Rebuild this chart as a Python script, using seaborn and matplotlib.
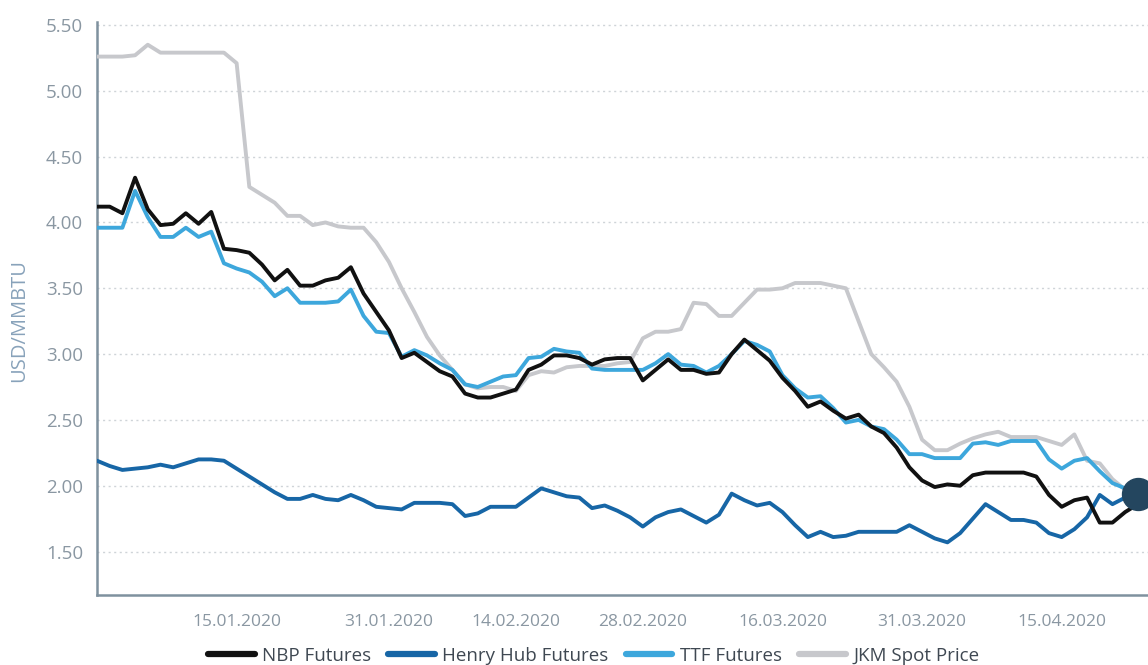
import matplotlib
matplotlib.use("Agg")
import numpy as np
import pandas as pd
import matplotlib.pyplot as plt
import seaborn as sns
from matplotlib.lines import Line2D

# Trading days (business days) starting 31.12.2019
trade_days = pd.bdate_range("2019-12-31", periods=83)

nbp = [4.12, 4.12, 4.07, 4.34, 4.10, 3.98, 3.99, 4.07, 3.99, 4.08,
       3.80, 3.79, 3.77, 3.68, 3.56, 3.64, 3.52, 3.52, 3.56, 3.58,
       3.66, 3.46, 3.32, 3.18, 2.97, 3.01, 2.94, 2.87, 2.83, 2.70,
       2.67, 2.67, 2.70, 2.73, 2.88, 2.92, 2.99, 2.99, 2.97, 2.92,
       2.96, 2.97, 2.97, 2.80, 2.88, 2.96, 2.88, 2.88, 2.85, 2.86,
       3.00, 3.11, 3.03, 2.95, 2.82, 2.72, 2.60, 2.64, 2.57, 2.51,
       2.54, 2.45, 2.40, 2.29, 2.14, 2.04, 1.99, 2.01, 2.00, 2.08,
       2.10, 2.10, 2.10, 2.10, 2.07, 1.93, 1.84, 1.89, 1.91, 1.72,
       1.72, 1.80, 1.86]

henry_hub = [2.19, 2.15, 2.12, 2.13, 2.14, 2.16, 2.14, 2.17, 2.20, 2.20,
             2.19, 2.13, 2.07, 2.01, 1.95, 1.90, 1.90, 1.93, 1.90, 1.89,
             1.93, 1.89, 1.84, 1.83, 1.82, 1.87, 1.87, 1.87, 1.86, 1.77,
             1.79, 1.84, 1.84, 1.84, 1.91, 1.98, 1.95, 1.92, 1.91, 1.83,
             1.85, 1.81, 1.76, 1.69, 1.76, 1.80, 1.82, 1.77, 1.72, 1.78,
             1.94, 1.89, 1.85, 1.87, 1.80, 1.70, 1.61, 1.65, 1.61, 1.62,
             1.65, 1.65, 1.65, 1.65, 1.70, 1.65, 1.60, 1.57, 1.64, 1.75,
             1.86, 1.80, 1.74, 1.74, 1.72, 1.64, 1.61, 1.67, 1.76, 1.93,
             1.86, 1.91, 1.94]

ttf = [3.96, 3.96, 3.96, 4.24, 4.04, 3.89, 3.89, 3.96, 3.89, 3.93,
       3.69, 3.65, 3.62, 3.55, 3.44, 3.50, 3.39, 3.39, 3.39, 3.40,
       3.49, 3.29, 3.17, 3.16, 2.98, 3.03, 2.99, 2.93, 2.88, 2.77,
       2.75, 2.79, 2.83, 2.84, 2.97, 2.98, 3.04, 3.02, 3.01, 2.89,
       2.88, 2.88, 2.88, 2.88, 2.93, 3.00, 2.92, 2.91, 2.86, 2.91,
       3.00, 3.10, 3.07, 3.02, 2.84, 2.74, 2.67, 2.68, 2.59, 2.48,
       2.50, 2.45, 2.43, 2.35, 2.24, 2.24, 2.21, 2.21, 2.21, 2.32,
       2.33, 2.31, 2.34, 2.34, 2.34, 2.20, 2.13, 2.19, 2.21, 2.11,
       2.02, 1.98, 1.95]

jkm = [5.26, 5.26, 5.26, 5.27, 5.35, 5.29, 5.29, 5.29, 5.29, 5.29,
       5.29, 5.21, 4.27, 4.21, 4.15, 4.05, 4.05, 3.98, 4.00, 3.97,
       3.96, 3.96, 3.85, 3.70, 3.50, 3.32, 3.13, 2.99, 2.88, 2.77,
       2.74, 2.75, 2.75, 2.72, 2.84, 2.87, 2.86, 2.90, 2.91, 2.91,
       2.91, 2.93, 2.94, 3.12, 3.17, 3.17, 3.19, 3.39, 3.38, 3.29,
       3.29, 3.39, 3.49, 3.49, 3.50, 3.54, 3.54, 3.54, 3.52, 3.50,
       3.25, 3.00, 2.90, 2.79, 2.60, 2.35, 2.27, 2.27, 2.32, 2.36,
       2.39, 2.41, 2.37, 2.37, 2.37, 2.34, 2.31, 2.39, 2.19, 2.17,
       2.05, 1.97, 1.93]

tick_dates = ["2020-01-15", "2020-01-31", "2020-02-14", "2020-02-28",
              "2020-03-16", "2020-03-31", "2020-04-15"]
y_ticks = [1.50, 2.00, 2.50, 3.00, 3.50, 4.00, 4.50, 5.00, 5.50]

series_names = ["NBP Futures", "Henry Hub Futures", "TTF Futures", "JKM Spot Price"]
series_values = [nbp, henry_hub, ttf, jkm]
series_colors = ["#111111", "#1766a6", "#3da7dc", "#c7c8cc"]
draw_order = ["JKM Spot Price", "TTF Futures", "Henry Hub Futures", "NBP Futures"]

frames = []
for name, vals in zip(series_names, series_values):
    frames.append(pd.DataFrame({"pos": np.arange(len(trade_days)),
                                "date": trade_days, "price": vals,
                                "series": name}))
data = pd.concat(frames, ignore_index=True)

sns.set_theme(style="white")
plt.rcParams["font.family"] = ["Open Sans", "DejaVu Sans"]

W, H = 1148, 665
fig = plt.figure(figsize=(W / 100, H / 100), dpi=100)
ymin, ymax = 1.17, 5.52
px_per_unit = 131.7
top_px = 25 - (ymax - 5.5) * px_per_unit
bottom_px = 595
ax = fig.add_axes([97 / W, 1 - bottom_px / H, 1 - 97 / W, (bottom_px - top_px) / H])

color_map = dict(zip(series_names, series_colors))
for z, name in enumerate(draw_order):
    sub = data[data["series"] == name]
    sns.lineplot(data=sub, x="pos", y="price", ax=ax, color=color_map[name],
                 linewidth=2.8, zorder=3 + z, legend=False, estimator=None)

# Hover marker on the last Henry Hub point
ax.plot(len(trade_days) - 1, henry_hub[-1], "o", ms=23, color="#24465f",
        zorder=10, clip_on=False)

ax.set_xlim(0, 82.8)
ax.set_ylim(ymin, ymax)

spine_col = "#7f919e"
for side in ["top", "right"]:
    ax.spines[side].set_visible(False)
for side in ["left", "bottom"]:
    ax.spines[side].set_color(spine_col)
    ax.spines[side].set_linewidth(1.8)

day_index = {d.strftime("%Y-%m-%d"): i for i, d in enumerate(trade_days)}
xt = [day_index[d] for d in tick_dates]
ax.set_xticks(xt)
ax.set_xticklabels([pd.Timestamp(d).strftime("%d.%m.%Y") for d in tick_dates])
ax.set_yticks(y_ticks)
ax.set_yticklabels([f"{v:.2f}" for v in y_ticks])

ax.tick_params(axis="both", colors=spine_col, labelcolor="#8a97a2", width=1.5)
ax.tick_params(axis="x", length=7, pad=7, direction="out", labelsize=12.5)
ax.tick_params(axis="y", length=6, pad=4, direction="out", labelsize=13.5)

ax.yaxis.grid(True, linestyle=(0, (1.5, 2.5)), color="#cfd4d8", linewidth=1)
ax.xaxis.grid(False)
ax.set_axisbelow(True)

ax.set_xlabel("")
ax.set_ylabel("USD/MMBTU", color="#88a2ba", fontsize=14.5)
ax.yaxis.set_label_coords(-(97 - 29) / (W - 97), (bottom_px - 320) / (bottom_px - top_px))

handles = [Line2D([], [], color=c, lw=4.5) for c in series_colors]
leg = fig.legend(handles, series_names, loc="center",
                 bbox_to_anchor=(0.517, 1 - 656 / H), ncol=4, frameon=False,
                 fontsize=13.5, handlelength=2.5, handletextpad=0.4,
                 columnspacing=0.9)
for t in leg.get_texts():
    t.set_color("#3f4852")

fig.savefig("out.png", dpi=100)
